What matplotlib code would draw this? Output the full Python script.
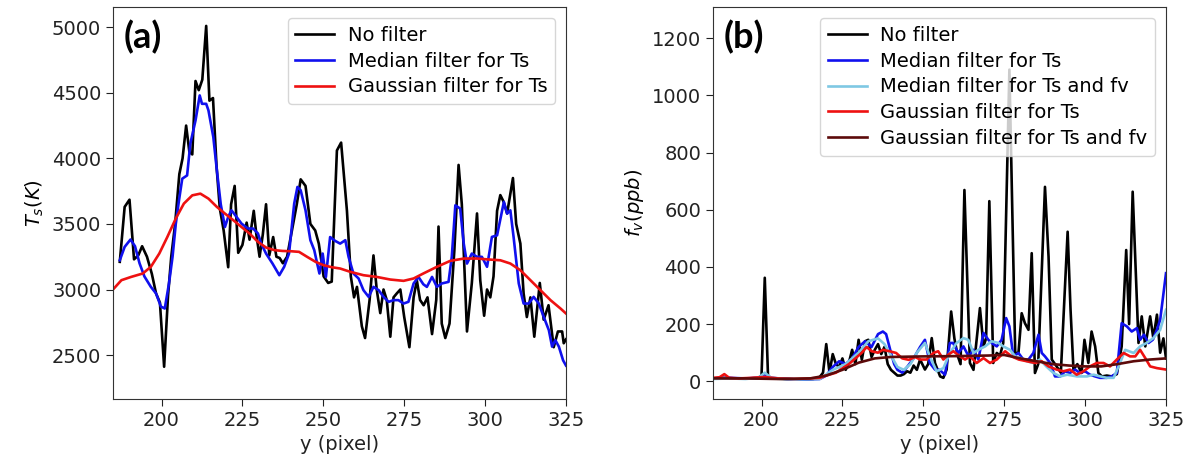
import matplotlib
matplotlib.use("Agg")
import matplotlib.pyplot as plt

# ---------------- Panel (a): Ts ----------------
a_raw_x = [187.1, 188.6, 190.1, 191.5, 192.8, 194.0, 195.5, 197.0, 198.3, 199.5, 200.8, 202.0, 203.0,
           204.2, 205.5, 206.5, 207.6, 208.6, 209.5, 210.5, 211.5, 212.6, 213.8, 214.8, 215.9, 217.0,
           218.0, 219.2, 220.6, 221.5, 222.6, 223.7, 225.0, 226.3, 227.2, 228.5, 229.3, 230.3, 231.3,
           232.3, 233.3, 234.5, 235.5, 236.5, 237.5, 238.8, 240.3, 241.8, 243.0, 244.5, 246.0, 247.5,
           248.6, 250.1, 251.5, 252.6, 254.2, 255.5, 257.3, 258.5, 259.5, 260.4, 261.9, 262.9, 264.3,
           265.5, 266.5, 267.6, 268.6, 269.6, 270.7, 271.7, 272.7, 273.8, 275.0, 276.6, 277.9, 278.9,
           279.9, 281.0, 282.2, 283.6, 284.9, 285.6, 286.6, 287.7, 289.0, 290.5, 291.8, 292.8, 294.4,
           295.9, 297.5, 298.5, 299.7, 300.6, 301.6, 302.6, 303.7, 304.7, 305.7, 306.8, 308.6, 309.6,
           310.9, 311.9, 312.9, 314.0, 315.2, 316.9, 318.1, 319.6, 321.2, 322.5, 323.8, 324.3, 325.0]
a_raw_y = [3211, 3630, 3685, 3230, 3260, 3330, 3250, 3120, 2970, 2900, 2411, 2950, 3250,
           3500, 3880, 4000, 4250, 4050, 4030, 4590, 4520, 4600, 5010, 4440, 4460, 3940,
           3620, 3450, 3170, 3650, 3790, 3280, 3340, 3510, 3380, 3600, 3420, 3250, 3420,
           3650, 3260, 3400, 3250, 3240, 3200, 3250, 3450, 3650, 3840, 3790, 3500, 3450,
           3350, 3100, 3050, 3060, 4060, 4120, 3600, 3100, 2940, 3020, 2720, 2630, 2920,
           3260, 3000, 2820, 3000, 2920, 2640, 2940, 2970, 3000, 2790, 2560, 2940, 3070,
           2920, 2880, 2940, 2660, 2920, 3480, 2740, 2630, 2740, 3300, 3950, 3650, 2680,
           3050, 3580, 3070, 2800, 3000, 2940, 3100, 3600, 3720, 3670, 3580, 3850, 3500,
           3350, 2970, 2790, 2940, 2640, 3050, 2770, 2880, 2560, 2680, 2680, 2590, 2620]

a_med_x = [187.1, 188.6, 190.4, 191.8, 193.2, 194.7, 196.7, 198.3, 199.8, 201.0, 202.3, 203.4, 204.4,
           205.4, 206.4, 207.9, 208.9, 210.5, 211.8, 212.5, 213.8, 214.5, 216.0, 217.1, 218.3, 219.6,
           220.6, 221.6, 223.2, 224.7, 226.7, 228.3, 229.8, 230.8, 232.3, 234.3, 236.4, 237.9, 239.4,
           241.0, 242.0, 243.0, 244.5, 246.0, 247.2, 248.1, 248.8, 249.8, 250.8, 252.1, 253.7, 255.2,
           256.8, 257.8, 259.3, 260.9, 262.4, 264.0, 265.5, 267.1, 268.6, 270.2, 271.7, 273.2, 274.8,
           276.3, 277.9, 279.4, 280.9, 282.0, 283.6, 285.1, 286.6, 288.7, 289.7, 290.8, 292.3, 293.4,
           294.4, 295.9, 297.5, 299.0, 300.6, 302.1, 303.7, 305.8, 306.8, 307.8, 308.8, 310.4, 311.9,
           313.5, 315.0, 316.6, 318.1, 319.7, 320.7, 321.7, 322.8, 324.1, 325.0]
a_med_y = [3223, 3325, 3381, 3330, 3200, 3100, 3020, 2970, 2870, 2855, 3046, 3249, 3500,
           3681, 3845, 3870, 4112, 4289, 4480, 4416, 4416, 4366, 4163, 3909, 3650, 3477,
           3553, 3604, 3553, 3503, 3465, 3465, 3427, 3350, 3274, 3198, 3109, 3173, 3274,
           3655, 3782, 3757, 3604, 3376, 3300, 3198, 3122, 3274, 3096, 3400, 3370, 3350,
           3376, 3249, 3122, 3084, 2995, 2944, 3020, 2995, 2944, 2906, 2919, 2919, 2893,
           2906, 3046, 3096, 3040, 3020, 3096, 3020, 3046, 3058, 3249, 3642, 3617, 3350,
           3198, 3274, 3249, 3249, 3173, 3401, 3413, 3668, 3579, 3604, 3401, 3046, 2893,
           2893, 2944, 2893, 2792, 2690, 2564, 2614, 2564, 2460, 2420]

a_gau_x = [185.0, 187.6, 190.6, 194.2, 196.7, 199.3, 201.8, 204.4, 206.9, 209.5, 212.0, 214.5, 217.1,
           219.6, 222.2, 224.7, 227.2, 229.8, 232.3, 234.9, 237.4, 239.9, 242.5, 245.0, 247.6, 250.1,
           252.6, 255.2, 258.3, 262.4, 266.5, 270.7, 274.8, 277.9, 280.9, 285.1, 289.2, 293.4, 297.5,
           301.6, 304.7, 307.8, 310.9, 314.0, 317.1, 320.2, 323.3, 325.0]
a_gau_y = [3000, 3071, 3096, 3122, 3173, 3274, 3401, 3541, 3655, 3718, 3731, 3693, 3630,
           3579, 3528, 3477, 3427, 3363, 3320, 3300, 3294, 3292, 3287, 3249, 3211, 3185,
           3170, 3160, 3135, 3109, 3096, 3076, 3066, 3084, 3122, 3173, 3218, 3236, 3236,
           3228, 3223, 3198, 3147, 3071, 2995, 2919, 2855, 2817]

# ---------------- Panel (b): fv ----------------
b_raw_x = [185, 188, 192, 196, 199, 200, 201, 202, 203, 207, 212, 216, 218, 219, 220, 221, 222, 223,
           224, 225, 226, 227, 228, 229, 230, 231, 232, 233, 234, 235, 236, 237, 238, 239, 240, 241,
           242, 243, 244, 245, 246, 247, 248, 249, 250.5, 251.5, 252.6, 253.6, 255.2, 256.2, 257.2,
           258.6, 259.6, 260.6, 261.5, 262.7, 264.4, 265.5, 267.5, 268.6, 269.4, 270.4, 271.6, 272.7,
           273.7, 274.7, 276.6, 278.4, 279.4, 280.4, 281.4, 282.5, 283.5, 284.5, 285.5, 287.6, 288.7,
           289.7, 291.2, 292.5, 294.6, 295.5, 296.4, 297.6, 298.9, 299.8, 301.0, 302.0, 303.1, 304.1,
           305.2, 306.7, 308.2, 309.8, 311.3, 312.7, 313.6, 314.7, 315.6, 316.5, 317.5, 318.6, 320.1,
           321.1, 322.2, 323.2, 324.2, 325.0]
b_raw_y = [10, 12, 10, 10, 12, 20, 362, 18, 10, 8, 6, 8, 15, 30, 130, 30, 95, 60,
           50, 80, 40, 65, 110, 60, 145, 75, 140, 145, 85, 110, 130, 95, 120, 60, 40, 30,
           20, 20, 25, 35, 30, 55, 40, 76, 41, 60, 151, 64, 17, 12, 41,
           244, 150, 90, 60, 669, 64, 40, 256, 122, 150, 630, 64, 99,
           90, 134, 1090, 99, 99, 238, 203, 180, 448, 29, 60, 680, 436,
           76, 52, 30, 523, 250, 41, 60, 29, 145, 64, 174, 122, 29,
           17, 20, 17, 25, 122, 459, 200, 663, 400, 134, 227, 122, 227,
           150, 233, 100, 150, 80]

b_med_x = [185, 190, 195, 199, 201, 203, 208, 213, 218, 220, 222, 224, 226, 228, 230, 232, 234, 236,
           237.5, 238.5, 240, 241, 242, 243.5, 245, 247, 249, 250.5, 252, 253.6, 255, 256.7, 258.2,
           259.2, 260.8, 262.4, 264, 265.5, 267, 268.6, 270.1, 271.1, 272.7, 274.2, 275.6, 276.6,
           277.8, 279.4, 280.9, 282.5, 284, 285.6, 286.6, 287.6, 289.2, 290.7, 292.3, 293.8, 295.3,
           296.9, 298.4, 300, 301.5, 303.1, 304.6, 306.7, 308.2, 309.8, 311.3, 312.9, 314.4, 316,
           317, 318.2, 319.6, 320.9, 322.2, 323.2, 325]
b_med_y = [10, 12, 10, 12, 25, 12, 8, 6, 8, 20, 50, 70, 60, 80, 120, 140, 120, 165,
           174, 165, 100, 60, 40, 30, 50, 80, 120, 145, 64, 41, 40, 23, 134,
           134, 99, 122, 87, 110, 76, 169, 145, 134, 122, 145, 221, 192,
           87, 99, 76, 76, 99, 163, 99, 87, 64, 17, 17, 35, 29,
           41, 29, 35, 23, 17, 12, 12, 17, 29, 203, 192, 174, 186,
           145, 163, 134, 145, 180, 215, 378]

b_medfv_x = [185, 190, 195, 199, 201, 203, 210, 218, 222, 226, 230, 233, 236, 238, 240, 242, 244,
             246, 248, 250.5, 252, 254.1, 256.2, 258.2, 260.3, 262.4, 263.9, 265.5, 267, 269.1,
             271.1, 273.2, 274.7, 276.8, 278.4, 280, 282, 284, 286, 288, 290.2, 292.3, 294.5,
             297.5, 300.6, 302.6, 304.7, 306.7, 308.8, 310.8, 312.4, 315, 317, 319, 321.1, 323.2, 325]
b_medfv_y = [8, 10, 8, 12, 30, 12, 6, 8, 40, 60, 100, 140, 150, 130, 90, 50, 40,
             60, 100, 134, 87, 35, 46, 99, 134, 151, 145, 99, 110, 122,
             140, 134, 122, 110, 87, 81, 70, 64, 76, 52, 29, 17, 23,
             17, 17, 23, 17, 12, 12, 64, 110, 99, 122, 134, 151, 180, 250]

b_gau_x = [185, 187, 188.5, 190, 193, 197, 201, 205, 210, 215, 218, 220, 223, 225, 227, 229, 231,
           232.5, 234, 236, 237.5, 239.6, 241.6, 243.5, 245.5, 247.5, 249, 251, 253.1, 254.6, 256.2,
           257.7, 259.3, 261.3, 262.9, 264.4, 266.5, 268.6, 270.6, 272.7, 275.3, 277.3, 279.5, 282,
           284.5, 286.6, 288.7, 291.2, 293.3, 295.3, 297.4, 299.5, 301.5, 303.6, 305.7, 307.7, 309.8,
           311.9, 313.9, 315.5, 317, 318.6, 320.1, 322.2, 325]
b_gau_y = [12, 14, 25, 12, 10, 12, 15, 10, 8, 10, 12, 20, 30, 45, 60, 80, 100,
           120, 105, 100, 110, 105, 99, 80, 75, 85, 76, 76, 99, 105, 76,
           93, 105, 87, 76, 87, 64, 81, 64, 76, 105, 87, 76, 70,
           64, 70, 52, 41, 35, 41, 23, 35, 52, 64, 64, 52, 76,
           99, 87, 87, 110, 81, 52, 46, 41]

b_gaufv_x = [185, 195, 205, 215, 220, 225, 230, 235, 240, 250, 260, 270, 275, 280, 285, 290, 295,
             300, 305, 310, 315, 320, 325]
b_gaufv_y = [10, 10, 8, 10, 20, 40, 65, 80, 85, 87, 88, 90, 92, 80, 70, 60, 55,
             52, 52, 60, 70, 76, 80]

labels_a = ["No filter", "Median filter for Ts", "Gaussian filter for Ts"]
labels_b = ["No filter", "Median filter for Ts", "Median filter for Ts and fv",
            "Gaussian filter for Ts", "Gaussian filter for Ts and fv"]
x_ticks = [200, 225, 250, 275, 300, 325]

plt.rcParams['font.family'] = ['DejaVu Sans']
TICK = '#222222'

fig = plt.figure(figsize=(11.91, 4.65), dpi=100)
W, H = 1191, 465
ax1 = fig.add_axes([113 / W, (H - 399) / H, (566 - 113) / W, (399 - 7.3) / H])
ax2 = fig.add_axes([713 / W, (H - 399) / H, (1166 - 713) / W, (399 - 7.3) / H])

lw = 1.9
ax1.plot(a_raw_x, a_raw_y, color='black', lw=lw, label=labels_a[0])
ax1.plot(a_med_x, a_med_y, color='#1010ee', lw=lw, label=labels_a[1])
ax1.plot(a_gau_x, a_gau_y, color='#ee1111', lw=lw, label=labels_a[2])
ax1.set_xlim(185, 325)
ax1.set_ylim(2165, 5152)
ax1.set_yticks([2500, 3000, 3500, 4000, 4500, 5000])
ax1.set_ylabel(r'$T_s(K)$', fontsize=14)

ax2.plot(b_raw_x, b_raw_y, color='black', lw=lw, label=labels_b[0])
ax2.plot(b_med_x, b_med_y, color='#1010ee', lw=lw, label=labels_b[1])
ax2.plot(b_medfv_x, b_medfv_y, color='#7ec8e3', lw=lw, label=labels_b[2])
ax2.plot(b_gau_x, b_gau_y, color='#ee1111', lw=lw, label=labels_b[3])
ax2.plot(b_gaufv_x, b_gaufv_y, color='#5c0a0a', lw=lw, label=labels_b[4])
ax2.set_xlim(185, 325)
ax2.set_ylim(-62, 1308)
ax2.set_yticks([0, 200, 400, 600, 800, 1000, 1200])
ax2.set_ylabel(r'$f_v(ppb)$', fontsize=14)

for ax, lab in ((ax1, '(a)'), (ax2, '(b)')):
    ax.set_xticks(x_ticks)
    ax.set_xlabel('y (pixel)', fontsize=14, color=TICK)
    ax.tick_params(labelsize=14, colors=TICK, length=5)
    for s in ax.spines.values():
        s.set_color('#333333')
    ax.text(0.024, 0.968, lab, transform=ax.transAxes, fontsize=26, fontweight='bold',
            family=['Lato', 'DejaVu Sans'], va='top', ha='left')
    ax.legend(loc='upper right', fontsize=14, labelspacing=0.35, handlelength=2.0,
              handletextpad=0.7, borderaxespad=0.55)

fig.savefig('out.png', dpi=100)
